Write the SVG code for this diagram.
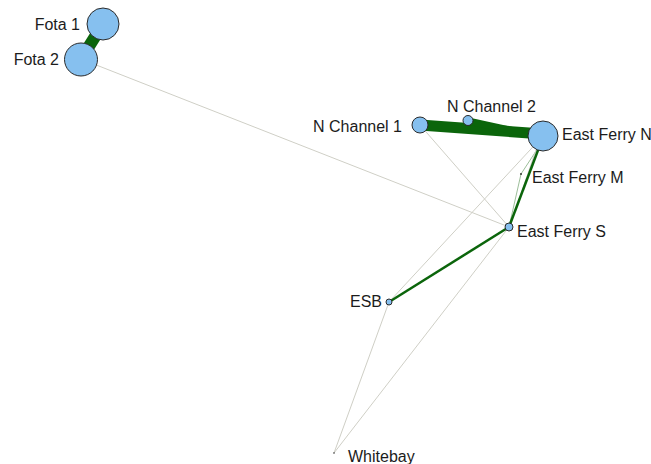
<svg xmlns="http://www.w3.org/2000/svg" width="651" height="464" viewBox="0 0 651 464">
<style>
.thin{stroke:#cfcfc6;stroke-width:1;fill:none}
.tg{stroke:#9dbf9a;stroke-width:1;fill:none}
.g{stroke:#0b650b;fill:none}
.n{fill:#86c0ef;stroke:#2b2b2b;stroke-width:1}
.d{fill:#333;stroke:none}
text{font-family:"Liberation Sans",Arial,sans-serif;font-size:16px;fill:#1c1c1c}
</style>
<rect width="651" height="464" fill="#ffffff"/>
<g id="connectors">
<line class="thin" x1="81" y1="59" x2="509" y2="227"/>
<line class="thin" x1="420" y1="125" x2="509" y2="227"/>
<line class="thin" x1="389" y1="302" x2="543" y2="136"/>
<line class="thin" x1="389" y1="302" x2="334" y2="453"/>
<line class="thin" x1="509" y1="227" x2="334" y2="453"/>
<line class="tg" x1="538" y1="148" x2="521" y2="174"/>
<line class="tg" x1="521" y1="174" x2="509" y2="227"/>
<line class="thin" x1="536" y1="150" x2="510" y2="226"/>
<line class="g" stroke-width="12" x1="103" y1="24" x2="81" y2="59"/>
<line class="g" stroke-width="11" x1="420" y1="125" x2="543" y2="134"/>
<line class="g" stroke-width="7" x1="468" y1="121" x2="543" y2="137"/>
<line class="g" stroke-width="2.5" x1="540" y1="145" x2="509" y2="227"/>
<line class="g" stroke-width="2.5" x1="509" y1="227" x2="389" y2="302"/>
</g>
<g id="fota1"><circle class="n" cx="103" cy="24" r="16"/><text x="80" y="29.5" text-anchor="end">Fota 1</text></g>
<g id="fota2"><circle class="n" cx="81" cy="59.5" r="16.5"/><text x="59" y="65" text-anchor="end">Fota 2</text></g>
<g id="nchannel1"><circle class="n" cx="420" cy="125" r="8"/><text x="402" y="131.5" text-anchor="end">N Channel 1</text></g>
<g id="nchannel2"><circle class="n" cx="468" cy="120.5" r="5"/><text x="447" y="111.5">N Channel 2</text></g>
<g id="eastferryn"><circle class="n" cx="543" cy="136" r="15"/><text x="562" y="140">East Ferry N</text></g>
<g id="eastferrym"><circle class="d" cx="521" cy="174" r="1"/><text x="532" y="183">East Ferry M</text></g>
<g id="eastferrys"><circle class="n" cx="509" cy="227" r="4"/><text x="517" y="237">East Ferry S</text></g>
<g id="esb"><circle class="n" cx="389" cy="302" r="3"/><text x="382" y="307" text-anchor="end">ESB</text></g>
<g id="whitebay"><circle class="d" cx="334" cy="453" r="0.8"/><text x="348" y="461.5">Whitebay</text></g>
</svg>
